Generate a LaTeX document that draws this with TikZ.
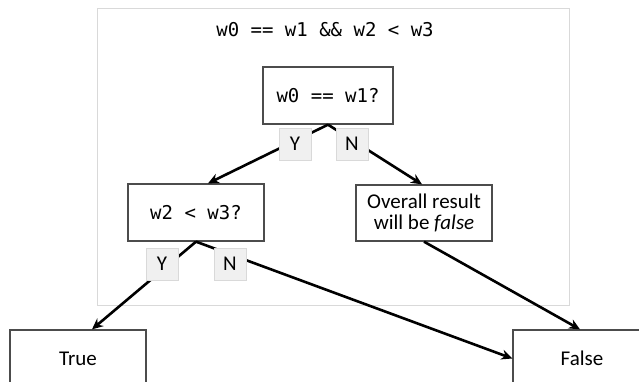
\documentclass[tikz,border=0pt]{standalone}
\usepackage{fontspec}
\setmainfont{Carlito}
\setmonofont{DejaVu Sans Mono}
\usetikzlibrary{arrows.meta}

\tikzset{
  testbox/.style={draw=black!70, line width=1.3pt, fill=white, minimum width=130, minimum height=57, font=\ttfamily\fontsize{19}{22}\selectfont},
  endbox/.style={draw=black!70, line width=1.3pt, fill=white, minimum width=136, minimum height=57, font=\fontsize{21}{25}\selectfont, align=center},
  yn/.style={draw=black!15, line width=0.8pt, fill=black!6, minimum width=32, minimum height=32, inner sep=0pt, font=\fontsize{21}{25}\selectfont},
  arr/.style={line width=2.6pt, -{Stealth[length=11pt, width=10pt]}}
}

\begin{document}
\begin{tikzpicture}[x=1pt, y=-1pt]
  \useasboundingbox (0,0) rectangle (639,381);
  \draw [black!15, line width=1pt] (97,8) rectangle (569,305);
  \node [font=\ttfamily\fontsize{19}{22}\selectfont] (cond) at (325,30) {w0 == w1 \&\& w2 < w3};

  \node [testbox] (q1) at (328,95.5) {w0 == w1?};
  \node [testbox, minimum width=136] (q2) at (196,212.5) {w2 < w3?};
  \node [endbox, minimum height=56] (res) at (424,213) {Overall result\\[-4pt]will be \textit{false}};
  \node [endbox] (tr) at (78,358.5) {True};
  \node [endbox, minimum width=138] (fa) at (582,358.5) {False};

  \draw [arr] (q1.south) -- ([xshift=12]q2.north);
  \draw [arr] (q1.south) -- ([xshift=-2]res.north);
  \draw [arr] (q2.south) -- ([xshift=14]tr.north);
  \draw [arr] (q2.south) -- (fa.west);
  \draw [arr] (res.south) -- ([xshift=-2]fa.north);

  \node [yn] (y1) at (295,144) {Y};
  \node [yn] (n1) at (352,144) {N};
  \node [yn] (y2) at (162,264) {Y};
  \node [yn] (n2) at (230,264) {N};
\end{tikzpicture}
\end{document}
